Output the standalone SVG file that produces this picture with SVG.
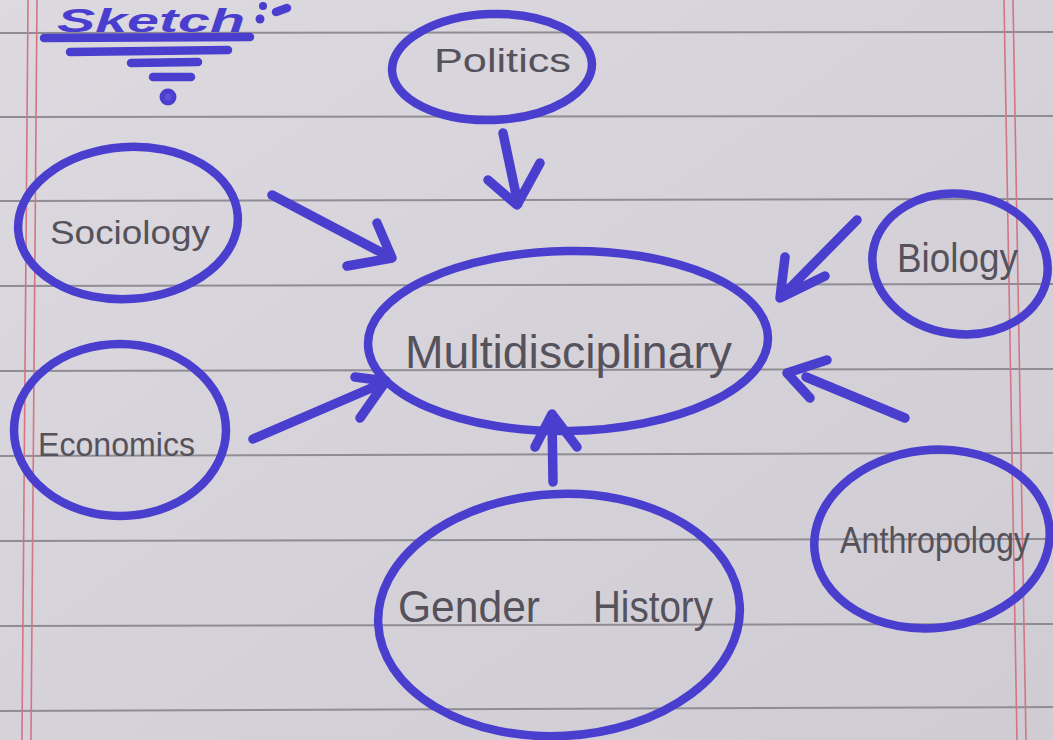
<svg xmlns="http://www.w3.org/2000/svg" width="1053" height="740" viewBox="0 0 1053 740">
<defs>
<linearGradient id="paper" x1="0" y1="0" x2="1" y2="1">
<stop offset="0" stop-color="#dcd9df"/>
<stop offset="0.5" stop-color="#d6d2da"/>
<stop offset="1" stop-color="#d0ccd3"/>
</linearGradient>
<style>
.rule{stroke:#8f8d93;stroke-width:2;fill:none}
.margin{stroke:#d27585;stroke-width:1.6;fill:none}
.pen{stroke:#4a3ecf;stroke-width:8.5;fill:none;stroke-linecap:round;stroke-linejoin:round}
.arrow{stroke:#4a3ecf;stroke-width:9.5;fill:none;stroke-linecap:round;stroke-linejoin:round}
.lbl{font-family:"Liberation Sans",Arial,sans-serif;fill:#55525b;text-anchor:start}
.title{font-family:"Liberation Sans",Arial,sans-serif;font-weight:bold;font-style:italic;fill:#4a3ecf}
.ink{fill:#4a3ecf}
</style>
</defs>
<rect width="1053" height="740" fill="url(#paper)"/>
<g id="paper-lines">
<line class="rule" x1="0" y1="33" x2="1053" y2="32"/>
<line class="rule" x1="0" y1="117" x2="1053" y2="116"/>
<line class="rule" x1="0" y1="201" x2="1053" y2="199"/>
<line class="rule" x1="0" y1="286" x2="1053" y2="284"/>
<line class="rule" x1="0" y1="371" x2="1053" y2="369"/>
<line class="rule" x1="0" y1="456" x2="1053" y2="453"/>
<line class="rule" x1="0" y1="541" x2="1053" y2="539"/>
<line class="rule" x1="0" y1="626" x2="1053" y2="624"/>
<line class="rule" x1="0" y1="711" x2="1053" y2="707"/>
<line class="margin" x1="28" y1="0" x2="22" y2="740"/>
<line class="margin" x1="37" y1="0" x2="31" y2="740"/>
<line class="margin" x1="1004" y1="0" x2="1017" y2="740"/>
<line class="margin" x1="1013" y1="0" x2="1026" y2="740"/>
</g>
<g id="title">
<text class="title" x="57" y="32" font-size="34" textLength="188" lengthAdjust="spacingAndGlyphs">Sketch</text>
<circle class="ink" cx="260" cy="19" r="4.5"/>
<circle class="ink" cx="263" cy="6" r="4"/>
<line class="pen" x1="276" y1="12" x2="287" y2="8"/>
<line class="pen" x1="44" y1="38" x2="250" y2="37" stroke-width="9"/>
<line class="pen" x1="70" y1="52" x2="228" y2="50" stroke-width="9"/>
<line class="pen" x1="131" y1="63" x2="198" y2="62"/>
<line class="pen" x1="153" y1="77" x2="191" y2="77"/>
<circle cx="168" cy="97" r="6" fill="#5d52d8" stroke="#4a3ecf" stroke-width="5"/>
</g>
<g id="connectors">
<path class="arrow" d="M503,133 L518,204 M488,180 L517,205 L540,163"/>
<path class="arrow" d="M272,195 L388,256 M377,223 L392,258 L347,266"/>
<path class="arrow" d="M253,439 L383,383 M355,377 L386,381 L360,418"/>
<path class="arrow" d="M857,220 L782,296 M785,257 L780,298 L825,276"/>
<path class="arrow" d="M905,418 L806,377 M827,360 L787,373 L810,398"/>
<path class="arrow" d="M553,482 L552,417 M535,447 L552,414 L577,447"/>
</g>
<g id="node-politics">
<ellipse class="pen" cx="492" cy="67" rx="100" ry="53" transform="rotate(-2 492 67)"/>
<text class="lbl" x="434" y="72" font-size="34" textLength="137" lengthAdjust="spacingAndGlyphs">Politics</text>
</g>
<g id="node-sociology">
<ellipse class="pen" cx="128" cy="223" rx="110" ry="76" transform="rotate(-4 128 223)"/>
<text class="lbl" x="50" y="244" font-size="34" textLength="160" lengthAdjust="spacingAndGlyphs">Sociology</text>
</g>
<g id="node-economics">
<ellipse class="pen" cx="120" cy="430" rx="106" ry="86"/>
<text class="lbl" x="38" y="456" font-size="34" textLength="157" lengthAdjust="spacingAndGlyphs">Economics</text>
</g>
<g id="node-multidisciplinary">
<ellipse class="pen" cx="568" cy="341" rx="200" ry="90" transform="rotate(-1 568 341)"/>
<text class="lbl" x="405" y="368" font-size="46" textLength="327" lengthAdjust="spacingAndGlyphs">Multidisciplinary</text>
</g>
<g id="node-biology">
<ellipse class="pen" cx="960" cy="264" rx="88" ry="70" transform="rotate(8 960 264)"/>
<text class="lbl" x="897" y="272" font-size="40" textLength="121" lengthAdjust="spacingAndGlyphs">Biology</text>
</g>
<g id="node-anthropology">
<ellipse class="pen" cx="932" cy="539" rx="118" ry="89" transform="rotate(-6 932 539)"/>
<text class="lbl" x="840" y="553" font-size="36" textLength="190" lengthAdjust="spacingAndGlyphs">Anthropology</text>
</g>
<g id="node-gender-history">
<ellipse class="pen" cx="559" cy="615" rx="181" ry="121" transform="rotate(-3 559 615)"/>
<text class="lbl" y="622" font-size="44"><tspan x="398" textLength="142" lengthAdjust="spacingAndGlyphs">Gender</tspan><tspan x="593" textLength="120" lengthAdjust="spacingAndGlyphs">History</tspan></text>
</g>
</svg>
